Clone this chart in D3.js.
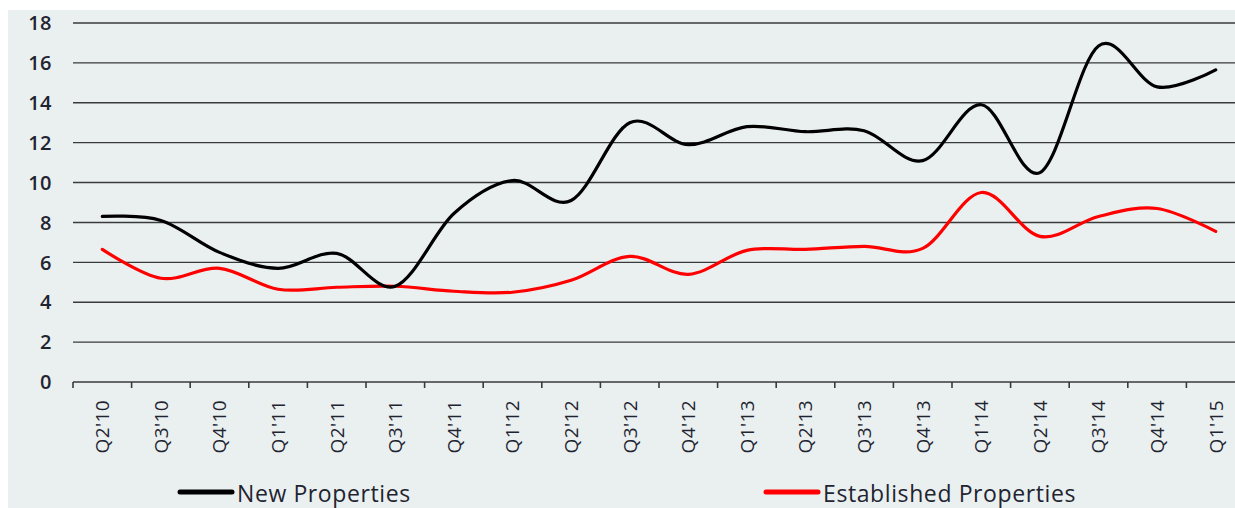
<!DOCTYPE html>
<html>
<head>
<meta charset="utf-8">
<script src="https://cdn.jsdelivr.net/npm/d3@7"></script>
<style>
  html, body { margin: 0; padding: 0; background: #fff; }
  svg { display: block; }
</style>
</head>
<body>
<div id="main-container"></div>
<script>
// Data
const QUARTERS = ["Q2'10", "Q3'10", "Q4'10", "Q1'11", "Q2'11", "Q3'11", "Q4'11", "Q1'12", "Q2'12", "Q3'12",
    "Q4'12", "Q1'13", "Q2'13", "Q3'13", "Q4'13", "Q1'14", "Q2'14", "Q3'14", "Q4'14", "Q1'15"];
const NEW_PROPERTIES = [8.3, 8.1, 6.5, 5.7, 6.45, 4.8, 8.45, 10.1, 9.1, 13.0,
    11.9, 12.8, 12.55, 12.6, 11.1, 13.9, 10.5, 16.85, 14.8, 15.65];
const ESTABLISHED_PROPERTIES = [6.65, 5.2, 5.7, 4.65, 4.75, 4.8, 4.55, 4.5, 5.1, 6.3,
    5.4, 6.6, 6.65, 6.8, 6.7, 9.5, 7.3, 8.3, 8.7, 7.55];
const Y_TICKS = [0, 2, 4, 6, 8, 10, 12, 14, 16, 18];
const SERIES = [
    { name: 'New Properties', values: NEW_PROPERTIES, color: '#000000' },
    { name: 'Established Properties', values: ESTABLISHED_PROPERTIES, color: '#ff0000' }
];

const SVG_WIDTH = 1235;
const SVG_HEIGHT = 508;
const PLOT = { left: 73, right: 1245, top: 23, bottom: 382 };
const FONT = '"Open Sans", Lato, sans-serif';
const TEXT_COLOR = '#1f2430';

const SVG = d3.select('#main-container').append('svg')
    .attr('width', SVG_WIDTH)
    .attr('height', SVG_HEIGHT);

// Background panel
SVG.append('rect')
    .attr('x', 8)
    .attr('y', 10)
    .attr('width', SVG_WIDTH - 8)
    .attr('height', SVG_HEIGHT - 10)
    .attr('fill', '#eaf0f0');

const X = d3.scaleBand()
    .domain(QUARTERS)
    .range([PLOT.left, PLOT.right]);

const Y = d3.scaleLinear()
    .domain([0, 18])
    .range([PLOT.bottom, PLOT.top]);

// Gridlines
SVG.append('g')
    .selectAll('line')
    .data(Y_TICKS.filter(d => d > 0))
    .join('line')
    .attr('x1', PLOT.left)
    .attr('x2', SVG_WIDTH)
    .attr('y1', d => Y(d))
    .attr('y2', d => Y(d))
    .attr('stroke', '#3a3a3a')
    .attr('stroke-width', 1.4);

// Y labels
SVG.append('g')
    .selectAll('text')
    .data(Y_TICKS)
    .join('text')
    .attr('x', 52)
    .attr('y', d => Y(d))
    .attr('dy', '0.36em')
    .attr('text-anchor', 'end')
    .style('font', `600 20px ${FONT}`)
    .style('letter-spacing', '0.5px')
    .style('fill', TEXT_COLOR)
    .text(d => d);

// X axis line + boundary ticks
const X_AXIS = SVG.append('g');
X_AXIS.append('line')
    .attr('x1', PLOT.left)
    .attr('x2', SVG_WIDTH)
    .attr('y1', PLOT.bottom)
    .attr('y2', PLOT.bottom)
    .attr('stroke', '#3a3a3a')
    .attr('stroke-width', 1.6);
X_AXIS.selectAll('.tick')
    .data(QUARTERS)
    .join('line')
    .attr('class', 'tick')
    .attr('x1', d => X(d))
    .attr('x2', d => X(d))
    .attr('y1', PLOT.bottom)
    .attr('y2', PLOT.bottom + 6)
    .attr('stroke', '#3a3a3a')
    .attr('stroke-width', 1.6);

// X labels (rotated)
X_AXIS.selectAll('text')
    .data(QUARTERS)
    .join('text')
    .attr('transform', d => `translate(${X(d) + X.bandwidth() / 2}, 400) rotate(-90)`)
    .attr('dy', '0.36em')
    .attr('text-anchor', 'end')
    .style('font', `500 19px ${FONT}`)
    .style('letter-spacing', '0.4px')
    .style('fill', TEXT_COLOR)
    .text(d => d);

// Lines
const LINE = d3.line()
    .x((d, i) => X(QUARTERS[i]) + X.bandwidth() / 2)
    .y(d => Y(d))
    .curve(d3.curveCardinal.tension(0));

SVG.append('g')
    .selectAll('path')
    .data(SERIES.slice().reverse())
    .join('path')
    .attr('d', d => LINE(d.values))
    .attr('fill', 'none')
    .attr('stroke', d => d.color)
    .attr('stroke-width', 3.2)
    .attr('stroke-linejoin', 'round')
    .attr('stroke-linecap', 'round');

// Legend
const LEGEND_X = [180, 766];
const LEGEND = SVG.append('g');
const LEGEND_ITEMS = LEGEND.selectAll('g')
    .data(SERIES)
    .join('g')
    .attr('transform', (d, i) => `translate(${LEGEND_X[i]}, 492)`);

LEGEND_ITEMS.append('line')
    .attr('x1', 0)
    .attr('x2', 52)
    .attr('y1', 0)
    .attr('y2', 0)
    .attr('stroke', d => d.color)
    .attr('stroke-width', 5)
    .attr('stroke-linecap', 'round');

LEGEND_ITEMS.append('text')
    .attr('x', 57)
    .attr('y', 9.5)
    .style('font', `500 23px ${FONT}`)
    .style('letter-spacing', '0.6px')
    .style('fill', TEXT_COLOR)
    .text(d => d.name);
</script>
</body>
</html>
